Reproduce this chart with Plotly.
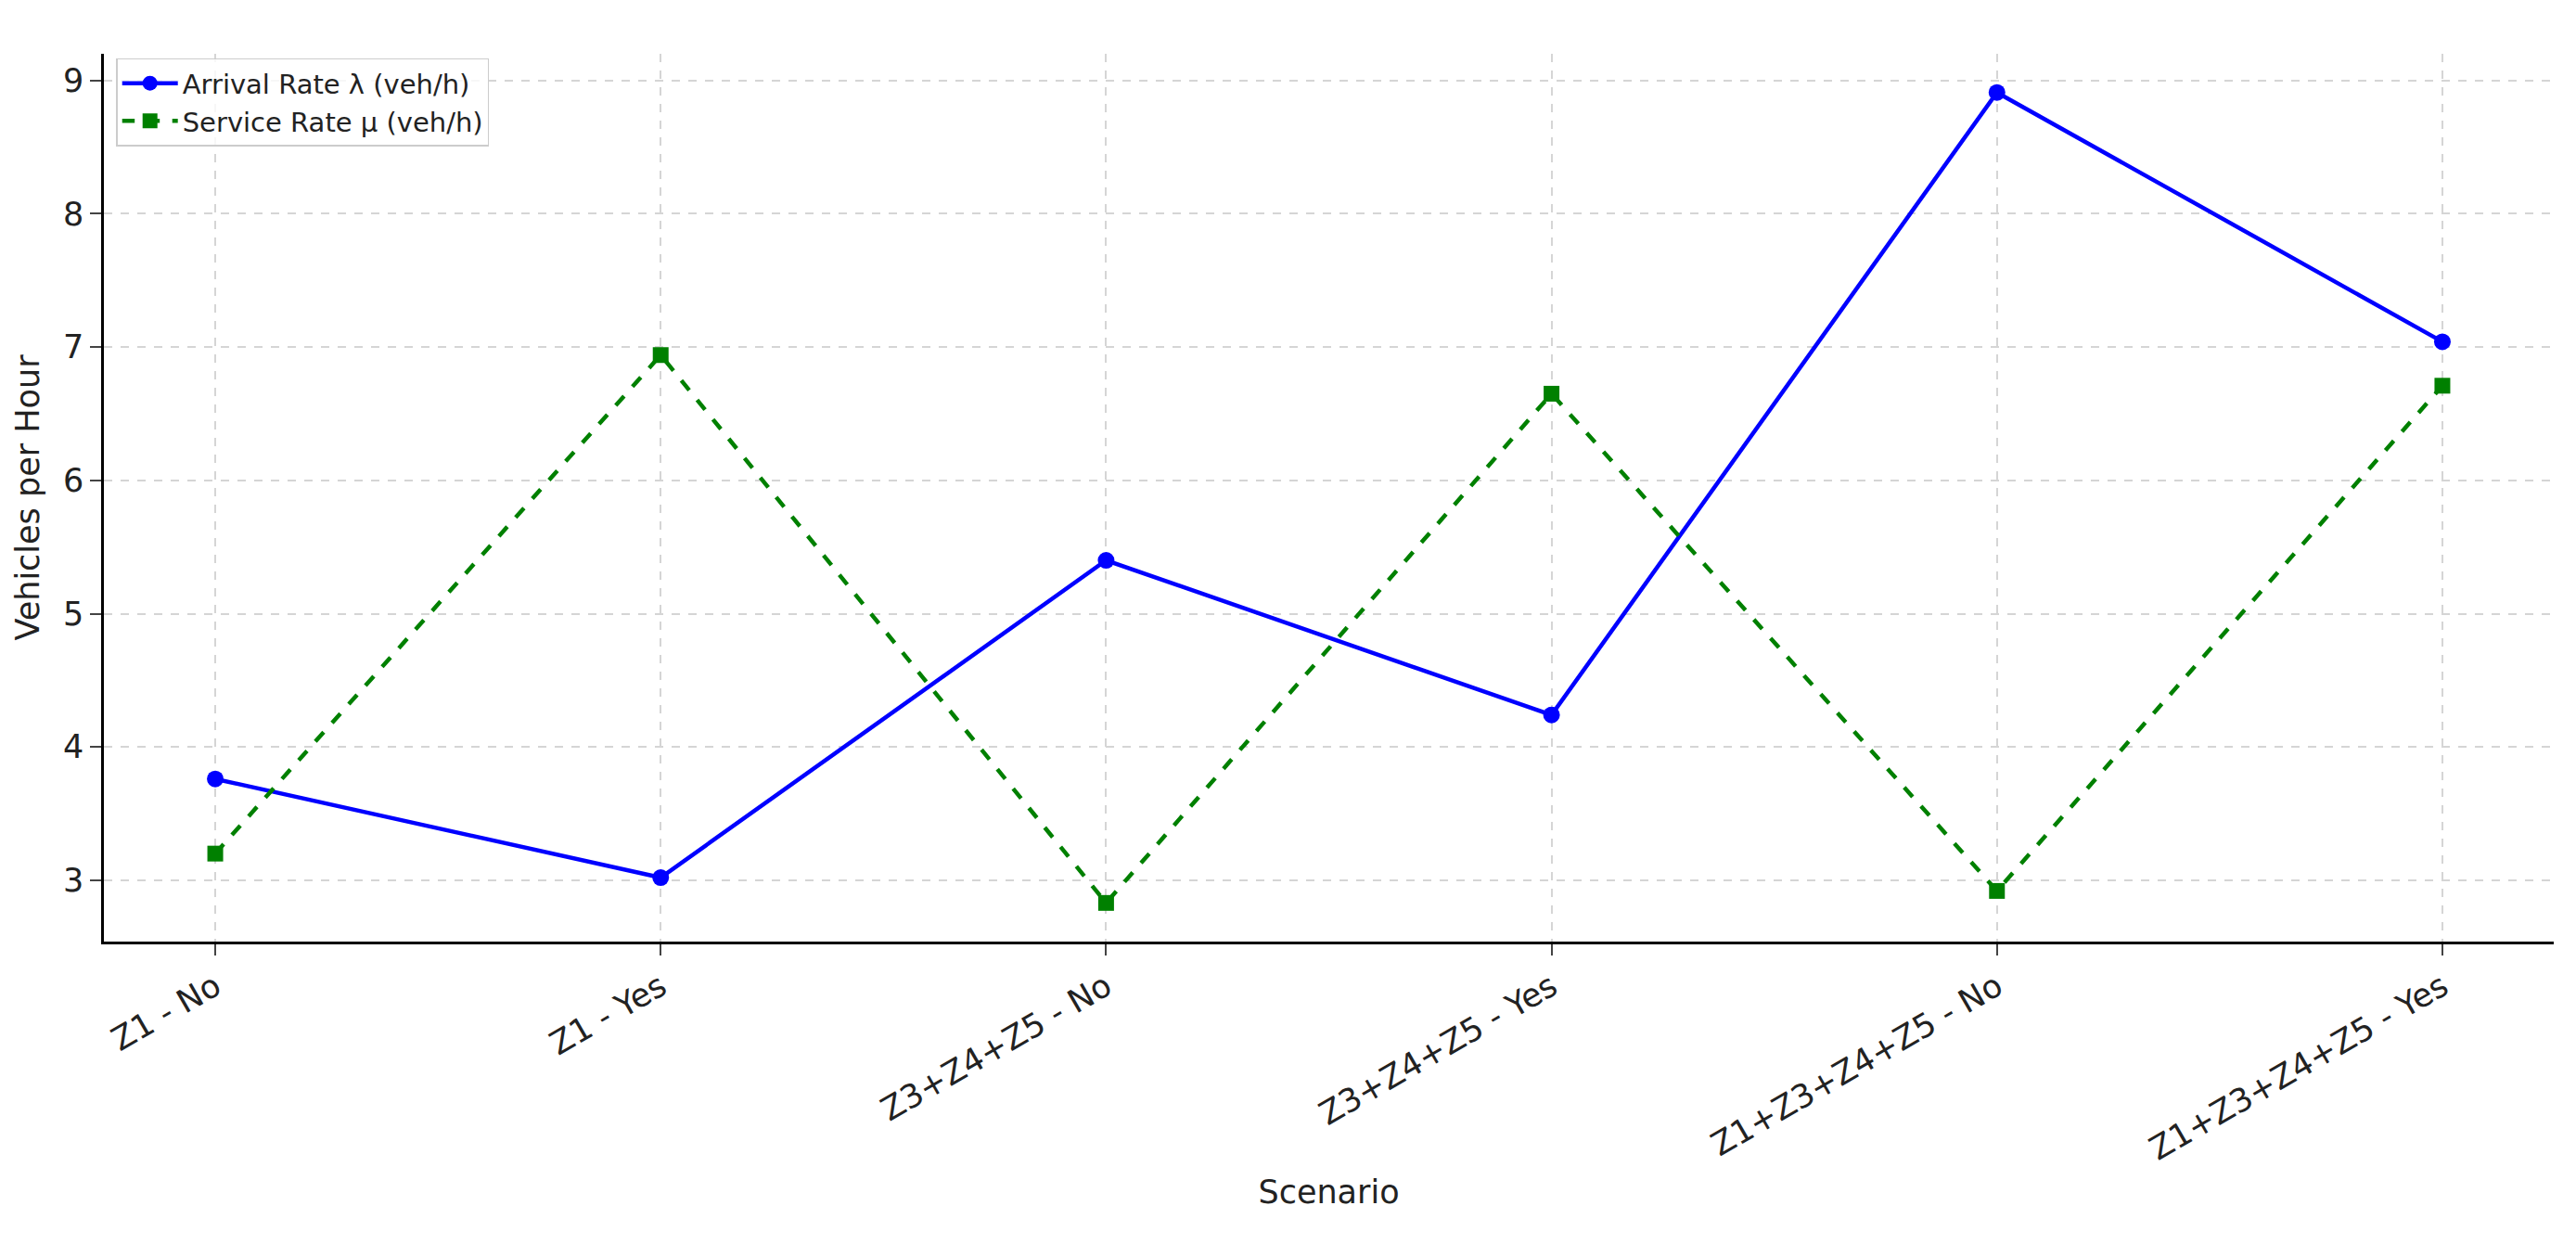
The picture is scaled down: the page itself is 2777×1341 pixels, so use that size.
import plotly.graph_objects as go

scenarios = ["Z1 - No", "Z1 - Yes", "Z3+Z4+Z5 - No", "Z3+Z4+Z5 - Yes", "Z1+Z3+Z4+Z5 - No", "Z1+Z3+Z4+Z5 - Yes"]
arrival = [3.76, 3.02, 5.40, 4.24, 8.91, 7.04]
service = [3.20, 6.94, 2.83, 6.65, 2.92, 6.71]

fig = go.Figure()
fig.add_trace(go.Scatter(x=scenarios, y=arrival, mode="lines+markers", name="Arrival Rate λ (veh/h)",
                         line=dict(color="blue", width=4.5), marker=dict(symbol="circle", size=18, color="blue")))
fig.add_trace(go.Scatter(x=scenarios, y=service, mode="lines+markers", name="Service Rate μ (veh/h)",
                         line=dict(color="green", width=4.5, dash="dash"), marker=dict(symbol="square", size=17, color="green")))

fig.update_layout(
    width=2777, height=1341, paper_bgcolor="white", plot_bgcolor="white",
    margin=dict(l=104, r=32, t=50, b=334),
    font=dict(family="DejaVu Sans", color="#222"),
    legend=dict(x=0.005, y=0.995, xanchor="left", yanchor="top", font=dict(size=29),
                itemwidth=60, bordercolor="#ccc", borderwidth=1.5, bgcolor="rgba(255,255,255,0.8)"),
    xaxis=dict(title=dict(text="Scenario", font=dict(size=35)), range=[-0.25, 5.25], tickangle=-30,
               tickfont=dict(size=35), showline=True, linecolor="black", linewidth=2.5,
               ticks="outside", ticklen=12, tickwidth=2,
               showgrid=True, gridcolor="#d5d5d5", griddash="dash", gridwidth=1.5),
    yaxis=dict(title=dict(text="Vehicles per Hour", font=dict(size=35)), range=[2.54, 9.2], dtick=1,
               tickfont=dict(size=35), showline=True, linecolor="black", linewidth=2.5,
               ticks="outside", ticklen=12, tickwidth=2, zeroline=False,
               showgrid=True, gridcolor="#d5d5d5", griddash="dash", gridwidth=1.5),
)
fig.write_html("out.html")
